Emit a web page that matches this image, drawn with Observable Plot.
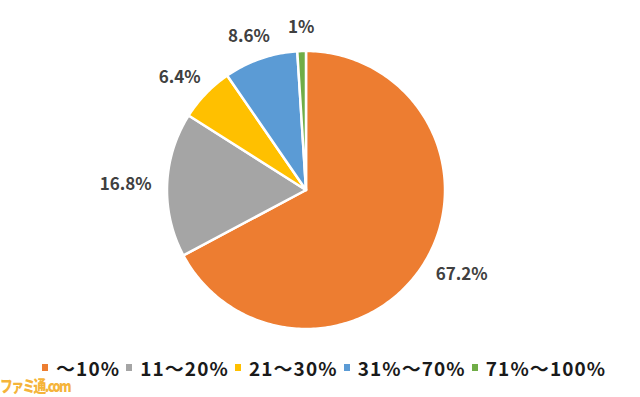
<!DOCTYPE html>
<html><head><meta charset="utf-8">
<script src="https://cdn.jsdelivr.net/npm/d3@7"></script>
<script src="https://cdn.jsdelivr.net/npm/@observablehq/plot@0.6"></script>
<style>
html,body{margin:0;padding:0;background:#fff;}
#chart{position:relative;width:640px;height:397px;overflow:hidden;background:#fff;}
.lg-swatches{font-family:"Noto Sans CJK JP","Noto Sans",sans-serif !important;font-size:19px !important;font-weight:700;color:#1a1a1a;letter-spacing:1.1px;padding-left:42px;margin:0 !important;min-height:32px !important;flex-wrap:nowrap !important;white-space:nowrap;}
.lg-swatch{margin-right:6px !important;}
.lg-swatch > svg{margin-right:8px !important;}
#wm{position:absolute;left:0;top:376px;font-family:"Noto Sans CJK JP",sans-serif;font-weight:900;font-size:16px;line-height:18px;color:#F5B43A;letter-spacing:-2px;white-space:nowrap;transform:scaleX(0.8);transform-origin:left top;}
</style>
</head><body>
<div id="chart"></div>
<script>
const categories = ["〜10%", "11〜20%", "21〜30%", "31%〜70%", "71%〜100%"];
const values = [67.2, 16.8, 6.4, 8.6, 1];
const valueLabels = ["67.2%", "16.8%", "6.4%", "8.6%", "1%"];
const colors = ["#ED7D31", "#A5A5A5", "#FFC000", "#5B9BD5", "#70AD47"];

const R = 139, labelR = 155, labelFont = 17, labelH = 16;
const fontFam = '"Noto Sans CJK JP", "Noto Sans", sans-serif';

const table = categories.map((c, i) => ({cat: c, value: values[i], label: valueLabels[i]}));
const arcs = d3.pie().sort(null).value(d => d.value).startAngle(0).endAngle(2 * Math.PI)(table);

// sector outline points (geometry of each slice)
const rows = [];
for (const a of arcs) {
  const n = Math.max(2, Math.ceil((a.endAngle - a.startAngle) / (Math.PI / 180))) + 1;
  for (let k = 0; k < n; k++) {
    const t = a.startAngle + (a.endAngle - a.startAngle) * k / (n - 1);
    rows.push({cat: a.data.cat, x: R * Math.sin(t), y: R * Math.cos(t)});
  }
}

const ctx = document.createElement("canvas").getContext("2d");
ctx.font = `bold ${labelFont}px ${fontFam}`;
const labelRows = arcs.map(a => {
  const m = (a.startAngle + a.endAngle) / 2;
  const sx = Math.sin(m), sy = Math.cos(m);
  const w = ctx.measureText(a.data.label).width;
  return {text: a.data.label, x: labelR * sx + sx * w / 2, y: labelR * sy + sy * labelH / 2};
});

const plot = Plot.plot({
  width: 640, height: 351, margin: 0,
  x: {domain: [-306, 334], axis: null},
  y: {domain: [-161, 190], axis: null},
  color: {domain: categories, range: colors},
  style: {background: "white", fontFamily: fontFam},
  marks: [
    Plot.area(rows, {x1: "x", y1: "y", x2: 0, y2: 0, z: "cat", fill: "cat", stroke: "white", strokeWidth: 2.5, strokeLinejoin: "round"}),
    Plot.text(labelRows, {x: "x", y: "y", text: "text", fontSize: labelFont, fontWeight: "bold", fill: "#404040", fontFamily: fontFam})
  ]
});
const chart = document.getElementById("chart");
chart.appendChild(plot);
const legend = Plot.legend({color: {domain: categories, range: colors, type: "ordinal"}, legend: "swatches", swatchWidth: 6, swatchHeight: 7, className: "lg"});
chart.appendChild(legend);
const wm = document.createElement("div");
wm.id = "wm";
wm.textContent = "ファミ通.com";
chart.appendChild(wm);
</script>
</body></html>
